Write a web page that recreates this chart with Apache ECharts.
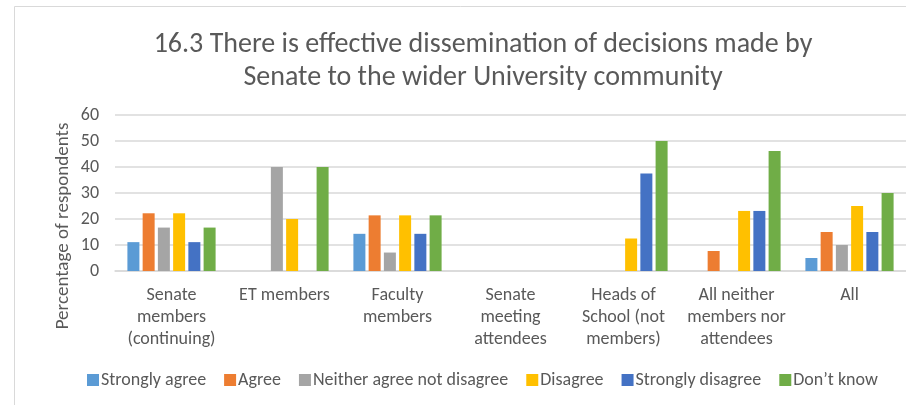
<!DOCTYPE html>
<html>
<head>
<meta charset="utf-8">
<script src="https://cdn.jsdelivr.net/npm/echarts@6/dist/echarts.min.js"></script>
<style>
  html, body { margin: 0; padding: 0; background: #fff; }
  #chart { width: 906px; height: 405px; }
</style>
</head>
<body>
<div id="chart"></div>
<script>
// Respondent groups along the x axis
const categories = [
  'Senate\nmembers\n(continuing)',
  'ET members',
  'Faculty\nmembers',
  'Senate\nmeeting\nattendees',
  'Heads of\nSchool (not\nmembers)',
  'All neither\nmembers nor\nattendees',
  'All'
];

// Percentage of respondents per answer, one value per group
const stronglyAgree    = [11.1, 0, 14.3, 0, 0, 0, 5];
const agree            = [22.2, 0, 21.4, 0, 0, 7.7, 15];
const neither          = [16.7, 40, 7.1, 0, 0, 0, 10];
const disagree         = [22.2, 20, 21.4, 0, 12.5, 23.1, 25];
const stronglyDisagree = [11.1, 0, 14.3, 0, 37.5, 23.1, 15];
const dontKnow         = [16.7, 40, 21.4, 0, 50, 46.2, 30];

const seriesNames = ['Strongly agree', 'Agree', 'Neither agree not disagree', 'Disagree', 'Strongly disagree', 'Don\u2019t know'];
const seriesData = [stronglyAgree, agree, neither, disagree, stronglyDisagree, dontKnow];
const colors = ['#5B9BD5', '#ED7D31', '#A5A5A5', '#FFC000', '#4472C4', '#70AD47'];

const yTicks = { min: 0, max: 60, interval: 10 };

const FONT = "Carlito, 'Liberation Sans Narrow', 'Liberation Sans', sans-serif";
const TEXT = '#595959';

const chart = echarts.init(document.getElementById('chart'), null, { renderer: 'canvas' });

chart.setOption({
  animation: false,
  color: colors,
  textStyle: { fontFamily: FONT },
  title: {
    text: '16.3 There is effective dissemination of decisions made by\nSenate to the wider University community',
    left: 478,
    top: 23,
    textAlign: 'center',
    textStyle: { fontFamily: FONT, fontSize: 28, fontWeight: 'normal', color: TEXT, lineHeight: 33 }
  },
  legend: {
    data: seriesNames,
    top: 366,
    left: 82,
    itemWidth: 12,
    itemHeight: 12,
    itemGap: 18,
    icon: 'rect',
    textStyle: { fontFamily: FONT, fontSize: 18, color: TEXT, padding: [0, 0, 0, -3] }
  },
  grid: { left: 115, top: 115, width: 794, height: 156 },
  xAxis: {
    type: 'category',
    data: categories,
    axisLine: { lineStyle: { color: '#d9d9d9', width: 1.5 } },
    axisTick: { show: false },
    axisLabel: { fontFamily: FONT, fontSize: 18, color: TEXT, lineHeight: 22, margin: 13, interval: 0 }
  },
  yAxis: {
    type: 'value',
    min: yTicks.min,
    max: yTicks.max,
    interval: yTicks.interval,
    axisLine: { show: false },
    axisTick: { show: false },
    axisLabel: { fontFamily: FONT, fontSize: 18, color: TEXT, margin: 16 },
    splitLine: { lineStyle: { color: '#d9d9d9', width: 1.5 } }
  },
  graphic: [
    {
      type: 'rect',
      shape: { x: 14.5, y: 6.5, width: 1000, height: 500 },
      style: { fill: 'none', stroke: '#d9d9d9', lineWidth: 1 },
      silent: true
    },
    {
      type: 'text',
      x: 63,
      y: 226,
      rotation: Math.PI / 2,
      style: {
        text: 'Percentage of respondents',
        fontFamily: FONT,
        fontSize: 19,
        fill: TEXT,
        align: 'center',
        verticalAlign: 'middle'
      }
    }
  ],
  series: seriesNames.map((name, i) => ({
    name,
    type: 'bar',
    data: seriesData[i],
    barWidth: 12,
    barGap: '27%',
    itemStyle: { borderWidth: 0 }
  }))
});
</script>
</body>
</html>
